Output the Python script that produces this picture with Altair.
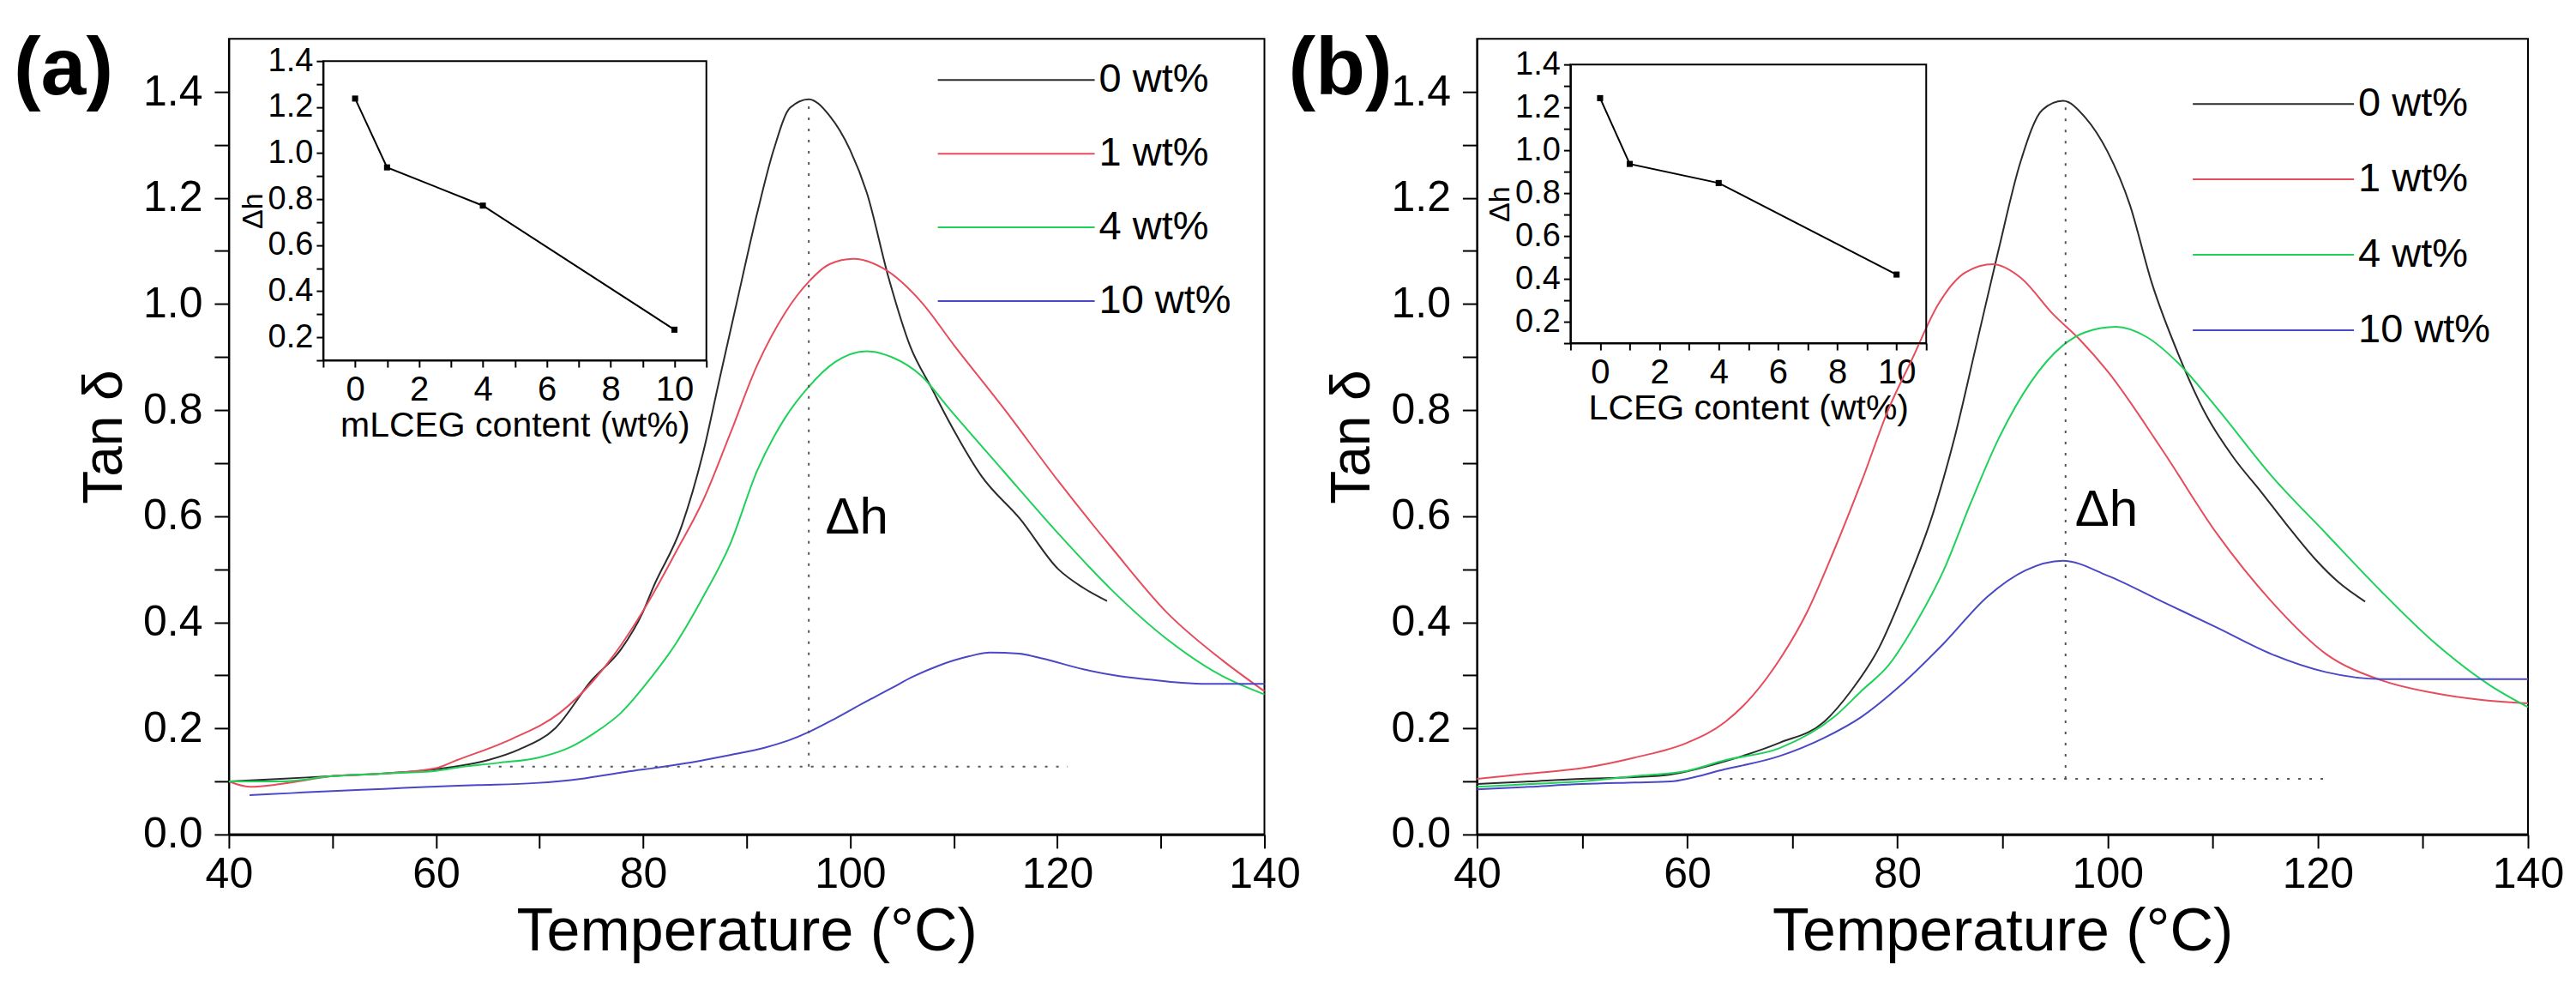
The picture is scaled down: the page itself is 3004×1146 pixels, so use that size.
import altair as alt
import pandas as pd

FONT = "Liberation Sans"

series = ["0 wt%", "1 wt%", "4 wt%", "10 wt%"]
colors = ["#2b2b2b", "#e64d5c", "#1fd15a", "#4a48c6"]

# (a) tan delta vs temperature
a0_t = [40, 45, 50, 55, 60, 65, 68, 71.5, 75, 77.9, 80, 81, 83.7, 85.8, 87.4, 88.9, 91, 92.6, 94.2, 96, 98, 100, 101.6, 103.7, 105.8, 107.9, 109.5, 112.7, 116.4, 120.1, 122.5, 124.8]
a0_v = [0.10, 0.105, 0.11, 0.115, 0.123, 0.14, 0.16, 0.20, 0.29, 0.35, 0.42, 0.467, 0.58, 0.72, 0.86, 0.99, 1.17, 1.29, 1.37, 1.386, 1.355, 1.29, 1.21, 1.05, 0.92, 0.84, 0.78, 0.675, 0.595, 0.50, 0.465, 0.44]
a1_t = [40, 42, 45, 50, 55, 60, 62, 67.3, 72, 75.2, 77.9, 80.5, 83.1, 85.8, 88.4, 91, 93.7, 96, 98, 100.3, 103.2, 106.9, 110, 114.8, 120.1, 125.4, 130.6, 135.9, 140]
a1_v = [0.10, 0.09, 0.095, 0.11, 0.115, 0.125, 0.14, 0.18, 0.23, 0.29, 0.358, 0.438, 0.53, 0.63, 0.755, 0.884, 0.983, 1.042, 1.075, 1.085, 1.067, 1.003, 0.923, 0.804, 0.666, 0.537, 0.418, 0.329, 0.27]
a4_t = [40, 45, 50, 55, 60, 62, 66, 69.9, 73, 75.2, 77.9, 80.5, 83.1, 85.8, 88.4, 91, 93.7, 96, 98.5, 101.6, 104, 106.9, 109.5, 114.8, 120.1, 125.4, 130.6, 135.9, 140]
a4_v = [0.10, 0.10, 0.11, 0.115, 0.12, 0.126, 0.135, 0.145, 0.165, 0.19, 0.23, 0.289, 0.358, 0.448, 0.547, 0.685, 0.785, 0.844, 0.89, 0.911, 0.90, 0.864, 0.804, 0.685, 0.567, 0.458, 0.368, 0.299, 0.264]
a10_t = [42, 46, 50, 55, 59.4, 64, 69.6, 74, 78.3, 82, 85.5, 88.5, 91.8, 94, 96.1, 98.5, 101.3, 104, 106, 108.5, 111.5, 113.5, 116.3, 118.5, 122.6, 125.5, 128.9, 132, 134.5, 140]
a10_v = [0.074, 0.078, 0.082, 0.086, 0.09, 0.093, 0.097, 0.105, 0.118, 0.128, 0.139, 0.15, 0.164, 0.177, 0.194, 0.218, 0.248, 0.276, 0.297, 0.318, 0.336, 0.343, 0.341, 0.332, 0.311, 0.30, 0.292, 0.286, 0.284, 0.284]

# (b) tan delta vs temperature
b0_t = [40, 45, 50, 55, 58.4, 63.6, 68.8, 73, 75.6, 78.2, 80.8, 83.4, 85.4, 87.5, 89.6, 91.7, 93.8, 95.75, 97.9, 100, 102.1, 104.2, 106.8, 109.4, 112, 114.6, 117, 119.8, 122, 124.5]
b0_v = [0.095, 0.10, 0.105, 0.108, 0.113, 0.138, 0.173, 0.212, 0.271, 0.35, 0.468, 0.606, 0.745, 0.922, 1.10, 1.267, 1.366, 1.383, 1.351, 1.287, 1.188, 1.04, 0.902, 0.79, 0.71, 0.646, 0.585, 0.518, 0.475, 0.439]
b1_t = [40, 45, 50, 55, 60, 63.6, 66.2, 68.8, 71.4, 74, 76.6, 79.2, 81.3, 83.9, 86.5, 89.1, 91.7, 94.8, 97.4, 100, 105.2, 110.4, 115.6, 120.8, 126, 131.2, 140]
b1_v = [0.105, 0.115, 0.125, 0.145, 0.173, 0.212, 0.261, 0.33, 0.419, 0.537, 0.666, 0.804, 0.892, 1.0, 1.06, 1.075, 1.05, 0.981, 0.932, 0.873, 0.725, 0.567, 0.439, 0.34, 0.291, 0.266, 0.247]
b4_t = [40, 45, 50, 55, 60, 63.6, 68.8, 74, 76.6, 79.2, 81.8, 84.4, 87, 89.6, 92.7, 95.75, 97.9, 100.8, 103.7, 106.8, 110.4, 115.6, 120.8, 126, 131.2, 136.4, 140]
b4_v = [0.09, 0.095, 0.10, 0.11, 0.12, 0.14, 0.163, 0.222, 0.271, 0.32, 0.40, 0.498, 0.626, 0.745, 0.853, 0.922, 0.947, 0.957, 0.938, 0.887, 0.804, 0.676, 0.567, 0.459, 0.36, 0.281, 0.24]
b10_t = [40, 45, 50, 55, 58.4, 63.6, 68.8, 73, 76.6, 80.3, 84.4, 88.6, 92.2, 95.75, 100, 105.2, 110.4, 115.6, 120.8, 126, 131.2, 140]
b10_v = [0.085, 0.09, 0.095, 0.098, 0.10, 0.123, 0.148, 0.182, 0.222, 0.281, 0.36, 0.449, 0.498, 0.516, 0.488, 0.439, 0.39, 0.34, 0.306, 0.293, 0.293, 0.293]

# insets: delta h vs content
content = [0, 1, 4, 10]
dh_a = [1.237, 0.938, 0.772, 0.233]
dh_b = [1.243, 0.936, 0.847, 0.42]

# dotted guide lines (peak line and baseline)
guide_a_t = [96, 96, 65, 121]
guide_a_v = [0.128, 1.385, 0.128, 0.128]
guide_b_t = [96, 96, 63, 121]
guide_b_v = [0.105, 1.375, 0.105, 0.105]
guide_part = ["peak", "peak", "base", "base"]

PLOT_H = 928


def curves_df(groups):
    rows = []
    for name, ts, vs in groups:
        for t, v in zip(ts, vs):
            rows.append({"series": name, "T": t, "v": v})
    return pd.DataFrame(rows)


x_main = alt.X("T:Q", title="Temperature (°C)",
               scale=alt.Scale(domain=[40, 140], nice=False, zero=False),
               axis=alt.Axis(values=list(range(40, 141, 10)),
                             labelExpr="datum.value % 20 == 0 ? datum.label : ''",
                             labelFlush=False, labelOverlap=False, grid=False,
                             tickSize=16, tickWidth=2, domainWidth=3,
                             labelFontSize=50, titleFontSize=70, labelPadding=6, titlePadding=8))
y_main = alt.Y("v:Q", title="Tan δ",
               scale=alt.Scale(domain=[0, 1.5], nice=False, zero=False),
               axis=alt.Axis(values=[i / 10 for i in range(15)], format=".1f",
                             labelExpr="round(datum.value * 10) % 2 == 0 ? datum.label : ''",
                             labelFlush=False, labelOverlap=False, grid=False,
                             tickSize=17, tickWidth=2, domainWidth=2,
                             labelFontSize=50, titleFontSize=64, labelPadding=14, titlePadding=12))


def panel(groups, guide_t, guide_v, dh_vals, tag, tag_x, inset_title, dh_pos,
          legend_xy, legend_len, legend_clip, inset_px, width):
    df = curves_df(groups)
    color = alt.Color("series:N", scale=alt.Scale(domain=series, range=colors),
                      legend=alt.Legend(title=None, orient="none",
                                        legendX=legend_xy[0], legendY=legend_xy[1],
                                        symbolType="stroke", symbolSize=legend_len ** 2,
                                        symbolStrokeWidth=2, clipHeight=legend_clip,
                                        rowPadding=2, labelFontSize=47, labelFont=FONT,
                                        labelColor="black", labelOffset=4))
    lines = alt.Chart(df).mark_line(strokeWidth=2, interpolate="monotone").encode(
        x=x_main, y=y_main, color=color)
    guides = alt.Chart(pd.DataFrame({"T": guide_t, "v": guide_v, "part": guide_part})).mark_line(
        strokeDash=[3, 10], strokeWidth=2, color="#555555").encode(x=x_main, y=y_main, detail="part:N")
    dh = alt.Chart(pd.DataFrame({"T": [dh_pos[0]], "v": [dh_pos[1]], "label": ["Δh"]})).mark_text(
        font=FONT, fontSize=60, align="left", baseline="alphabetic", color="black").encode(
        x=x_main, y=y_main, text="label:N")
    tag_text = alt.Chart(pd.DataFrame({"label": [tag]})).mark_text(
        font=FONT, fontSize=95, fontWeight="bold", align="left", baseline="top", color="black").encode(
        x=alt.value(tag_x), y=alt.value(-10), text="label:N")
    main = alt.layer(lines, guides, dh, tag_text)

    left, right, top, bottom = inset_px
    x_in = alt.X("c:Q", title=inset_title,
                 scale=alt.Scale(domain=[-1, 11], range=[left, right], nice=False, zero=False),
                 axis=alt.Axis(orient="bottom", offset=bottom - PLOT_H, values=list(range(-1, 12)),
                               labelExpr="datum.value % 2 == 0 && datum.value >= 0 && datum.value <= 10 ? datum.label : ''",
                               labelFlush=False, labelOverlap=False, grid=False,
                               tickSize=8, tickWidth=2, domainWidth=2,
                               labelFontSize=40, titleFontSize=41, labelPadding=6, titlePadding=2))
    y_in = alt.Y("h:Q", title="Δh",
                 scale=alt.Scale(domain=[0.1, 1.4], range=[bottom, top], nice=False, zero=False),
                 axis=alt.Axis(orient="left", offset=-left, values=[i / 10 for i in range(1, 15)], format=".1f",
                               labelExpr="round(datum.value * 10) % 2 == 0 ? datum.label : ''",
                               labelFlush=False, labelOverlap=False, grid=False,
                               tickSize=8, tickWidth=2, domainWidth=2,
                               labelFontSize=38, titleFontSize=34, labelPadding=4, titlePadding=0))
    frame = alt.Chart(pd.DataFrame({"c": [-1], "c1": [11], "h": [0.1], "h1": [1.4]})).mark_rect(
        fillOpacity=0, stroke="black", strokeWidth=2).encode(x=x_in, x2="c1:Q", y=y_in, y2="h1:Q")
    ins_df = pd.DataFrame({"c": content, "h": dh_vals})
    ins_line = alt.Chart(ins_df).mark_line(color="black", strokeWidth=2).encode(x=x_in, y=y_in)
    ins_pts = alt.Chart(ins_df).mark_point(shape="square", filled=True, size=50, color="black", opacity=1).encode(
        x=x_in, y=y_in)
    inset = alt.layer(frame, ins_line, ins_pts)

    return alt.layer(main, inset).resolve_scale(x="independent", y="independent").properties(
        width=width, height=PLOT_H)


panel_a = panel(
    [(series[0], a0_t, a0_v), (series[1], a1_t, a1_v), (series[2], a4_t, a4_v), (series[3], a10_t, a10_v)],
    guide_a_t, guide_a_v, dh_a, "(a)", -251, "mLCEG content (wt%)", (97.6, 0.567),
    (826, 6), 183, 84, (110, 557, 26, 375), 1208)
panel_b = panel(
    [(series[0], b0_t, b0_v), (series[1], b1_t, b1_v), (series[2], b4_t, b4_v), (series[3], b10_t, b10_v)],
    guide_b_t, guide_b_v, dh_b, "(b)", -220, "LCEG content (wt%)", (96.9, 0.582),
    (834, 33), 188, 86, (109, 524, 30, 355), 1226)

chart = alt.hconcat(panel_a, panel_b, spacing=248, bounds="flush").resolve_scale(
    color="independent"
).configure_view(
    stroke="black", strokeWidth=2
).configure_axis(
    labelFont=FONT, titleFont=FONT, labelColor="black", titleColor="black",
    domainColor="black", tickColor="black", titleFontWeight="normal"
).properties(
    padding={"left": 7, "top": 25, "right": 5, "bottom": 5}, background="white"
)

chart.save("out.html", embed_options={"renderer": "svg", "actions": False})
